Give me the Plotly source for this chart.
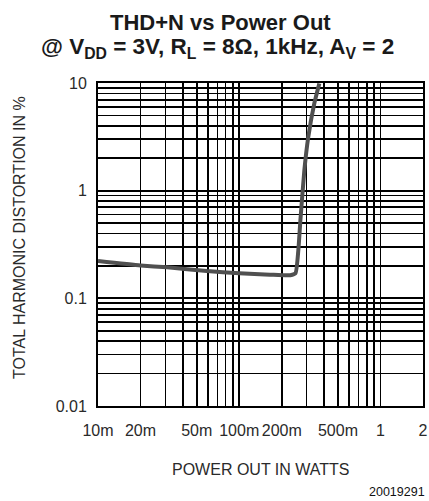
import plotly.graph_objects as go

# Data
power_w = [0.01, 0.02, 0.031, 0.059, 0.10, 0.165, 0.23, 0.25, 0.262, 0.271, 0.289, 0.308, 0.34, 0.369]
thd_pct = [0.222, 0.202, 0.194, 0.179, 0.171, 0.166, 0.164, 0.171, 0.279, 0.53, 1.54, 3.13, 6.46, 9.9]

x_tickvals = [0.01, 0.02, 0.05, 0.1, 0.2, 0.5, 1, 2]
x_ticktext = ["10m", "20m", "50m", "100m", "200m", "500m", "1", "2"]
y_tickvals = [0.01, 0.1, 1, 10]
y_ticktext = ["0.01", "0.1", "1", "10"]

FONT = "Liberation Sans, Arial, Helvetica, sans-serif"

fig = go.Figure()
fig.add_trace(go.Scatter(
    x=power_w, y=thd_pct, mode="lines",
    line=dict(color="#505050", width=4, shape="spline", smoothing=0.5),
    hoverinfo="skip", showlegend=False,
))

grid_color = "#000000"
fig.update_xaxes(
    type="log", range=[-2, 0.30103],
    tickvals=x_tickvals, ticktext=x_ticktext, tickangle=0,
    showgrid=True, gridcolor=grid_color, gridwidth=1.7,
    minor=dict(dtick="D1", showgrid=True, gridcolor=grid_color, gridwidth=1.7, ticks=""),
    ticks="outside", ticklen=9, tickcolor="rgba(0,0,0,0)",
    tickfont=dict(family=FONT, size=16, color="#2a2a2a"),
    showline=True, linecolor="#000000", linewidth=2, mirror=True,
    zeroline=False, automargin=False,
)
fig.update_yaxes(
    type="log", range=[-2, 1],
    tickvals=y_tickvals, ticktext=y_ticktext,
    showgrid=True, gridcolor=grid_color, gridwidth=1.7,
    minor=dict(dtick="D1", showgrid=True, gridcolor=grid_color, gridwidth=1.7, ticks=""),
    ticks="outside", ticklen=6, tickcolor="rgba(0,0,0,0)",
    tickfont=dict(family=FONT, size=16, color="#2a2a2a"),
    showline=True, linecolor="#000000", linewidth=2, mirror=True,
    zeroline=False, automargin=False,
)

W, H = 429, 501
L, R, T, B = 98, 6, 83, 95
pw, ph = W - L - R, H - T - B

def px_to_paper_x(px):
    return (px - L) / pw

def px_to_paper_y(py):
    return (H - B - py) / ph

annotations = [
    dict(text="<b>THD+N vs Power Out</b>", x=px_to_paper_x(220), y=px_to_paper_y(22),
         xanchor="center", yanchor="middle",
         font=dict(family=FONT, size=22, color="#1a1a1a")),
    dict(text="<b>@ V<sub>DD</sub> = 3V, R<sub>L</sub> = 8Ω, 1kHz, A<sub>V</sub> = 2</b>",
         x=px_to_paper_x(217), y=px_to_paper_y(48), xanchor="center", yanchor="middle",
         font=dict(family=FONT, size=22.5, color="#1a1a1a")),
    dict(text="POWER OUT IN WATTS", x=px_to_paper_x(260), y=px_to_paper_y(469),
         xanchor="center", yanchor="middle",
         font=dict(family=FONT, size=16, color="#2a2a2a")),
    dict(text="TOTAL HARMONIC DISTORTION IN %", x=px_to_paper_x(19), y=px_to_paper_y(238),
         xanchor="center", yanchor="middle", textangle=-90,
         font=dict(family=FONT, size=16, color="#2a2a2a")),
    dict(text="20019291", x=px_to_paper_x(427), y=px_to_paper_y(492),
         xanchor="right", yanchor="middle",
         font=dict(family=FONT, size=12.5, color="#111111")),
]
for a in annotations:
    a.update(xref="paper", yref="paper", showarrow=False)

fig.update_layout(
    width=W, height=H,
    margin=dict(l=L, r=R, t=T, b=B),
    paper_bgcolor="white", plot_bgcolor="white",
    showlegend=False,
    annotations=annotations,
)

fig.write_html(
    "out.html",
    config={"displayModeBar": False, "staticPlot": True},
    post_script="document.body.style.margin='0';document.body.style.padding='0';",
)
